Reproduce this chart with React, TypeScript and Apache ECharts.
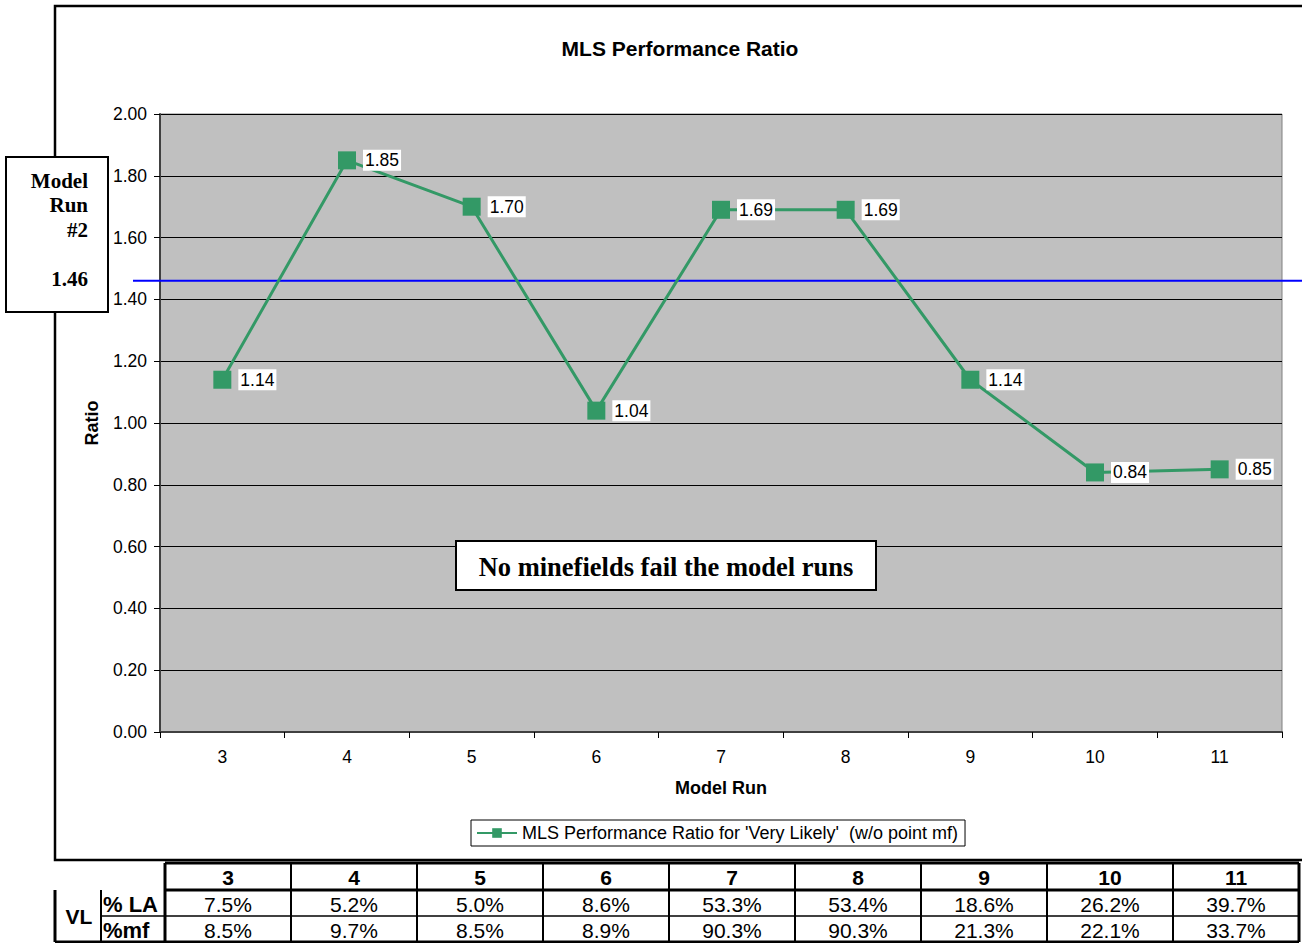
import React, { useEffect, useRef } from "react";
import * as echarts from "echarts";

// Model runs on the category axis
const categories = ["3", "4", "5", "6", "7", "8", "9", "10", "11"];
// MLS performance ratio per model run ('Very Likely', without point mf)
const ratioValues = [1.14, 1.85, 1.7, 1.04, 1.69, 1.69, 1.14, 0.84, 0.85];
// Reference ratio of model run #2
const modelRun2Ratio = 1.46;
// Y axis range
const yMin = 0;
const yMax = 2;
const yStep = 0.2;
// Table rows below the chart
const groupLabel = "VL";
const rowLabels = ["% LA", "%mf"];
const laPercent = [7.5, 5.2, 5.0, 8.6, 53.3, 53.4, 18.6, 26.2, 39.7];
const mfPercent = [8.5, 9.7, 8.5, 8.9, 90.3, 90.3, 21.3, 22.1, 33.7];

const seriesName = "MLS Performance Ratio for 'Very Likely'  (w/o point mf)";
const SANS = "'Liberation Sans', Arial, sans-serif";
const SERIF = "'Liberation Serif', 'Times New Roman', serif";
const GREEN = "#339966";

function buildTable(): any[] {
  const els: any[] = [];
  const colX0 = 165;
  const colW = 126;
  const vlLeft = 55;
  const vlRight = 101;
  const headTop = 863;
  const rowTop = 890;
  const rowMid = 916;
  const rowBottom = 942;
  const right = colX0 + colW * categories.length;
  const line = (x1: number, y1: number, x2: number, y2: number, w: number) => ({
    type: "line",
    shape: { x1, y1, x2, y2 },
    style: { stroke: "#000", lineWidth: w },
    z: 20,
  });
  const text = (t: string, x: number, y: number, bold: boolean, size = 20, align = "center") => ({
    type: "text",
    x,
    y,
    style: {
      text: t,
      align,
      verticalAlign: "middle",
      fontFamily: SANS,
      fontSize: size,
      fontWeight: bold ? "bold" : "normal",
      fill: "#000",
    },
    z: 21,
  });
  // header row frame
  els.push(line(colX0, headTop, right, headTop, 3));
  els.push(line(colX0, rowTop, right, rowTop, 3));
  // body frame
  els.push(line(vlLeft, rowTop, vlLeft, rowBottom, 3));
  els.push(line(vlLeft, rowBottom, right, rowBottom, 3));
  els.push(line(vlRight, rowTop, vlRight, rowBottom, 2));
  els.push(line(vlRight, rowMid, right, rowMid, 1.5));
  // column separators
  for (let i = 0; i <= categories.length; i++) {
    const x = colX0 + colW * i;
    els.push(line(x, headTop, x, rowBottom, i === 0 || i === categories.length ? 3 : 2));
  }
  categories.forEach((c, i) => {
    const cx = colX0 + colW * i + colW / 2;
    els.push(text(c, cx, (headTop + rowTop) / 2 + 1, true, 21));
    els.push(text(laPercent[i].toFixed(1) + "%", cx, (rowTop + rowMid) / 2 + 1, false, 21));
    els.push(text(mfPercent[i].toFixed(1) + "%", cx, (rowMid + rowBottom) / 2 + 1, false, 21));
  });
  els.push(text(groupLabel, (vlLeft + vlRight) / 2 + 1, (rowTop + rowBottom) / 2, true, 21));
  els.push(text(rowLabels[0], vlRight + 2, (rowTop + rowMid) / 2 + 1, true, 22, "left"));
  els.push(text(rowLabels[1], vlRight + 2, (rowMid + rowBottom) / 2 + 1, true, 22, "left"));
  return els;
}

function buildGraphics(refY: number): any[] {
  return [
    // outer chart frame (open to the right)
    {
      type: "polyline",
      shape: { points: [[1302, 6], [55, 6], [55, 860], [1302, 860]] },
      style: { stroke: "#000", lineWidth: 2.5, fill: null },
      z: 5,
    },
    // model run #2 reference level
    {
      type: "line",
      shape: { x1: 133, y1: refY, x2: 1302, y2: refY },
      style: { stroke: "#0000FF", lineWidth: 2 },
      z: 1,
    },
    // reference box on the left
    {
      type: "rect",
      shape: { x: 6, y: 157, width: 102, height: 155 },
      style: { fill: "#fff", stroke: "#000", lineWidth: 2 },
      z: 10,
    },
    {
      type: "text",
      x: 88,
      y: 168.5,
      style: {
        text: "Model\nRun\n#2\n\n" + modelRun2Ratio.toFixed(2),
        align: "right",
        verticalAlign: "top",
        lineHeight: 24.5,
        fontFamily: SERIF,
        fontSize: 21,
        fontWeight: "bold",
        fill: "#000",
      },
      z: 11,
    },
    // annotation inside the plot
    {
      type: "rect",
      shape: { x: 456, y: 541, width: 420, height: 49 },
      style: { fill: "#fff", stroke: "#000", lineWidth: 2 },
      z: 10,
    },
    {
      type: "text",
      x: 666,
      y: 567,
      style: {
        text: "No minefields fail the model runs",
        align: "center",
        verticalAlign: "middle",
        fontFamily: SERIF,
        fontSize: 26.5,
        fontWeight: "bold",
        fill: "#000",
      },
      z: 11,
    },
    ...buildTable(),
  ];
}

export default function App() {
  const ref = useRef<HTMLDivElement>(null);

  useEffect(() => {
    if (!ref.current) return;
    const chart = echarts.init(ref.current, null, { renderer: "svg" });
    const option: any = {
      animation: false,
      backgroundColor: "#fff",
      textStyle: { fontFamily: SANS },
      title: {
        text: "MLS Performance Ratio",
        left: 680,
        top: 38,
        padding: 0,
        textAlign: "center",
        textStyle: { fontFamily: SANS, fontSize: 21, fontWeight: "bold", color: "#000" },
      },
      grid: {
        left: 160,
        top: 114,
        right: 20,
        bottom: 211,
        show: true,
        backgroundColor: "#C0C0C0",
        borderColor: "#808080",
        borderWidth: 1,
        containLabel: false,
      },
      legend: {
        left: 471,
        top: 820,
        padding: [4, 7, 4, 5],
        borderColor: "#000",
        borderWidth: 1,
        itemWidth: 40,
        itemHeight: 12,
        textStyle: { fontFamily: SANS, fontSize: 18, color: "#000" },
        data: [seriesName],
      },
      xAxis: {
        type: "category",
        data: categories,
        boundaryGap: true,
        name: "Model Run",
        nameLocation: "middle",
        nameGap: 47,
        nameTextStyle: { fontFamily: SANS, fontSize: 18, fontWeight: "bold", color: "#000" },
        axisLine: { show: true, lineStyle: { color: "#404040", width: 2 } },
        axisTick: { show: true, length: 6, lineStyle: { color: "#000" } },
        axisLabel: { fontFamily: SANS, fontSize: 17.5, color: "#000", margin: 16 },
        splitLine: { show: false },
      },
      yAxis: {
        type: "value",
        min: yMin,
        max: yMax,
        interval: yStep,
        name: "Ratio",
        nameLocation: "middle",
        nameGap: 59,
        nameTextStyle: { fontFamily: SANS, fontSize: 18, fontWeight: "bold", color: "#000" },
        axisLine: { show: true, lineStyle: { color: "#404040", width: 2 } },
        axisTick: { show: true, length: 6, lineStyle: { color: "#000" } },
        axisLabel: {
          fontFamily: SANS,
          fontSize: 17.5,
          color: "#000",
          margin: 13,
          formatter: (v: number) => v.toFixed(2),
        },
        splitLine: { show: true, lineStyle: { color: "#000", width: 1 } },
      },
      series: [
        {
          name: seriesName,
          type: "line",
          data: ratioValues,
          symbol: "rect",
          symbolSize: 18,
          itemStyle: { color: GREEN },
          lineStyle: { color: GREEN, width: 3 },
          z: 3,
          label: {
            show: true,
            position: "right",
            distance: 7,
            formatter: (p: any) => Number(p.value).toFixed(2),
            fontFamily: SANS,
            fontSize: 17.5,
            color: "#000",
            backgroundColor: "#fff",
            padding: [2, 2, 1, 2],
          },
        },
      ],
    };
    chart.setOption(option);
    const refY = chart.convertToPixel({ yAxisIndex: 0 }, modelRun2Ratio) as number;
    chart.setOption({ graphic: buildGraphics(refY) });
    return () => chart.dispose();
  }, []);

  return (
    <div
      ref={ref}
      style={{ position: "absolute", left: 0, top: 0, width: 1302, height: 943 }}
    />
  );
}
